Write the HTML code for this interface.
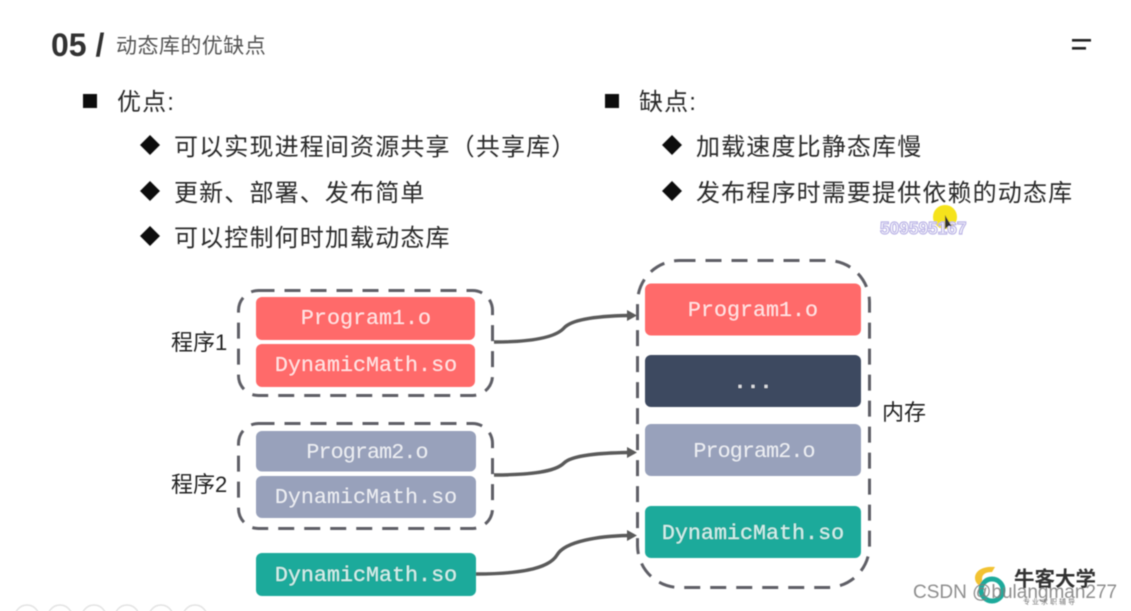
<!DOCTYPE html>
<html><head><meta charset="utf-8">
<style>
html,body{margin:0;padding:0;background:#fff;width:1131px;height:611px;overflow:hidden}
svg{display:block}
.cn{font-family:"Liberation Sans","Noto Sans CJK SC",sans-serif}
.li{font-size:24px;letter-spacing:1.15px;fill:#2a2a2a}
.lb{font-size:22px;fill:#222}
.m{font-family:"Liberation Mono",monospace;font-size:21.7px;text-anchor:middle;fill:#fff;fill-opacity:.82}
.d{fill:none;stroke:#5f5f66;stroke-width:3;stroke-dasharray:16 10}
.c{fill:none;stroke:#5a5a5a;stroke-width:3.4}
.a{fill:#5a5a5a}
</style></head><body>
<svg width="1131" height="611" viewBox="0 0 1131 611" xmlns="http://www.w3.org/2000/svg">
<defs><filter id="b" x="-2%" y="-2%" width="104%" height="104%"><feGaussianBlur stdDeviation="0.5"/></filter></defs>
<g filter="url(#b)">
<text x="51" y="56" font-family="Liberation Sans,sans-serif" font-weight="700" font-size="32" fill="#333">05 /</text>
<text x="116" y="53" class="cn" font-size="21" letter-spacing="0.45" fill="#555">动态库的优缺点</text>
<rect x="1072" y="39" width="19" height="2.6" fill="#222"/>
<rect x="1072" y="47" width="14" height="2.6" fill="#222"/>

<rect x="83" y="94" width="14" height="14" fill="#111"/>
<text x="117" y="110" class="cn li">优点:</text>
<path d="M150 135l10 10-10 10-10-10z" fill="#111"/>
<text x="174" y="155" class="cn li">可以实现进程间资源共享（共享库）</text>
<path d="M150 181l10 10-10 10-10-10z" fill="#111"/>
<text x="174" y="201" class="cn li">更新、部署、发布简单</text>
<path d="M150 226l10 10-10 10-10-10z" fill="#111"/>
<text x="174" y="246" class="cn li">可以控制何时加载动态库</text>

<rect x="605" y="94" width="14" height="14" fill="#111"/>
<text x="639" y="110" class="cn li">缺点:</text>
<path d="M672 135l10 10-10 10-10-10z" fill="#111"/>
<text x="696" y="155" class="cn li">加载速度比静态库慢</text>
<path d="M672 181l10 10-10 10-10-10z" fill="#111"/>
<text x="696" y="201" class="cn li">发布程序时需要提供依赖的动态库</text>

<circle cx="945" cy="217" r="12" fill="#f5e31a"/>
<text x="880" y="234" font-family="Liberation Sans,sans-serif" font-weight="700" font-size="17.300" fill="#fff" stroke="#b9b2e6" stroke-width="1.2">509595167</text>
<path d="M945 215v14l3.500-3 3 0z" fill="#333"/>

<rect x="238.500" y="290.500" width="254" height="105" rx="20" class="d"/>
<rect x="238.500" y="423.500" width="254" height="105" rx="20" class="d"/>
<rect x="637.500" y="260.500" width="232" height="327" rx="42" class="d"/>

<rect x="256" y="297" width="219" height="43" rx="6" fill="#ff6b6b"/>
<rect x="256" y="344" width="219" height="43" rx="6" fill="#ff6b6b"/>
<rect x="256" y="431" width="220" height="40.500" rx="6" fill="#98a1bb"/>
<rect x="256" y="476" width="220" height="42" rx="6" fill="#98a1bb"/>
<rect x="256" y="553" width="220" height="43" rx="6" fill="#1eaa9b"/>
<rect x="645" y="283.500" width="216" height="52" rx="6" fill="#ff6b6b"/>
<rect x="645" y="355" width="216" height="52" rx="6" fill="#3d4860"/>
<rect x="645" y="424" width="216" height="52" rx="6" fill="#98a1bb"/>
<rect x="645" y="506" width="216" height="52" rx="6" fill="#1eaa9b"/>

<text x="366" y="324" class="m">Program1.o</text>
<text x="366" y="371" class="m">DynamicMath.so</text>
<text x="367" y="458" class="m" letter-spacing="-0.9">Program2.o</text>
<text x="366" y="503" class="m">DynamicMath.so</text>
<text x="366" y="581" class="m">DynamicMath.so</text>
<text x="753" y="316" class="m">Program1.o</text>
<text x="753" y="388" class="m" font-weight="700">...</text>
<text x="754" y="457" class="m" letter-spacing="-0.9">Program2.o</text>
<text x="753" y="539" class="m">DynamicMath.so</text>

<text x="171" y="350" class="cn lb">程序1</text>
<text x="171" y="492" class="cn lb">程序2</text>
<text x="882" y="420" class="cn lb">内存</text>

<path d="M494 342C530 342 555 338 564 328C572 319 600 316 628 315.500" class="c"/>
<path d="M627 310l10 5.500-10 5.500z" class="a"/>
<path d="M494 475C530 475 555 472 564 463C572 455 600 453 628 452.500" class="c"/>
<path d="M627 447l10 5.500-10 5.500z" class="a"/>
<path d="M476 574C515 574 548 570 557 555C565 541 600 536 628 535.500" class="c"/>
<path d="M627 530l10 5.500-10 5.500z" class="a"/>

<g fill="none" stroke="#e3e3e3" stroke-width="1.500">
<circle cx="27" cy="617" r="12"/><circle cx="60" cy="617" r="12"/><circle cx="94" cy="617" r="12"/><circle cx="127" cy="617" r="12"/><circle cx="161" cy="617" r="12"/><circle cx="195" cy="617" r="12"/>
</g>

<path d="M975 578c0-8 9-12 20-11l-3 5c-6 0-10 2-10 7l1 8c-5-1-8-5-8-9z" fill="#f2c230"/>
<circle cx="992" cy="590" r="11" fill="none" stroke="#1eaa9b" stroke-width="5"/>
<text x="1014" y="586" class="cn" font-size="20.500" font-weight="700" fill="#333">牛客大学</text>
<text x="1023" y="604" class="cn" font-size="7" fill="#777" letter-spacing="2">专业求职辅导</text>
<text x="913" y="598" font-family="Liberation Sans,sans-serif" font-size="19" fill="#7a7a7a" fill-opacity=".85">CSDN @bulangman277</text>
</g>
</svg>
</body></html>
